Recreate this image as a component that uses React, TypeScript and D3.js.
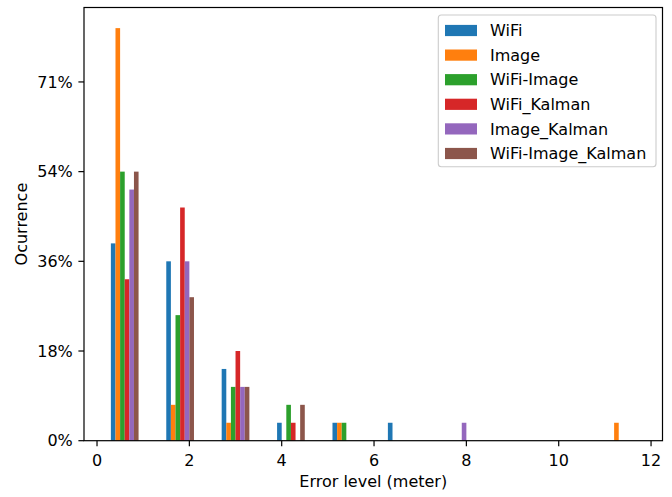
import React from "react";
import * as d3 from "d3";

// Histogram of localisation error (28 samples per method), 10 bins of 1.2 m on [0, 12]
const binEdges = [0, 1.2, 2.4, 3.6, 4.8, 6.0, 7.2, 8.4, 9.6, 10.8, 12.0];
const seriesNames = ["WiFi", "Image", "WiFi-Image", "WiFi_Kalman", "Image_Kalman", "WiFi-Image_Kalman"];
const wifiCounts = [11, 10, 4, 1, 1, 1, 0, 0, 0, 0];
const imageCounts = [23, 2, 1, 0, 1, 0, 0, 0, 0, 1];
const wifiImageCounts = [15, 7, 3, 2, 1, 0, 0, 0, 0, 0];
const wifiKalmanCounts = [9, 13, 5, 1, 0, 0, 0, 0, 0, 0];
const imageKalmanCounts = [14, 10, 3, 0, 0, 0, 1, 0, 0, 0];
const wifiImageKalmanCounts = [15, 8, 3, 2, 0, 0, 0, 0, 0, 0];
const totalSamples = 28;
const yTickCounts = [0, 5, 10, 15, 20];
const xTicks = [0, 2, 4, 6, 8, 10, 12];

const allCounts = [wifiCounts, imageCounts, wifiImageCounts, wifiKalmanCounts, imageKalmanCounts, wifiImageKalmanCounts];
const colors = ["#1f77b4", "#ff7f0e", "#2ca02c", "#d62728", "#9467bd", "#8c564b"];

const W = 672;
const H = 497;
const plot = { left: 84, right: 662.5, top: 7.5, bottom: 440.7 };
const FONT = "DejaVu Sans, sans-serif";
const FS = 16;

export default function App() {
  const x = d3.scaleLinear().domain([-0.282, 12.248]).range([plot.left, plot.right]);
  const maxCount = d3.max(allCounts.flat()) as number;
  const y = d3.scaleLinear().domain([0, maxCount * 1.05]).range([plot.bottom, plot.top]);

  const nSeries = allCounts.length;
  const rwidth = 0.5;

  const bars: React.ReactNode[] = [];
  allCounts.forEach((counts, si) => {
    counts.forEach((c, bi) => {
      if (c <= 0) return;
      const lo = binEdges[bi];
      const hi = binEdges[bi + 1];
      const tw = hi - lo;
      const bw = (rwidth * tw) / nSeries;
      const x0 = lo + (tw * (1 - rwidth)) / 2 + si * bw;
      bars.push(
        <rect
          key={`${si}-${bi}`}
          x={x(x0)}
          width={x(x0 + bw) - x(x0)}
          y={y(c)}
          height={y(0) - y(c)}
          fill={colors[si]}
        />
      );
    });
  });

  const tickLen = 5.6;
  const legend = { x: 438.3, y: 15, w: 217.7, h: 151.7 };
  const rowY = (i: number) => 30.5 + i * 24.6;

  return (
    <svg width={W} height={H} style={{ position: "absolute", left: 0, top: 0, background: "#fff" }}>
      <rect x={0} y={0} width={W} height={H} fill="#fff" />
      <g>{bars}</g>

      {/* spines */}
      <rect
        x={plot.left}
        y={plot.top}
        width={plot.right - plot.left}
        height={plot.bottom - plot.top}
        fill="none"
        stroke="#000"
        strokeWidth={1.2}
      />

      {/* x axis */}
      {xTicks.map((t) => (
        <g key={`xt${t}`}>
          <line x1={x(t)} x2={x(t)} y1={plot.bottom} y2={plot.bottom + tickLen} stroke="#000" strokeWidth={1.2} />
          <text x={x(t)} y={465.5} textAnchor="middle" fontFamily={FONT} fontSize={FS} fill="#000">
            {t}
          </text>
        </g>
      ))}
      <text x={(plot.left + plot.right) / 2} y={487} textAnchor="middle" fontFamily={FONT} fontSize={FS} fill="#000">
        Error level (meter)
      </text>

      {/* y axis */}
      {yTickCounts.map((t) => (
        <g key={`yt${t}`}>
          <line x1={plot.left - tickLen} x2={plot.left} y1={y(t)} y2={y(t)} stroke="#000" strokeWidth={1.2} />
          <text
            x={plot.left - tickLen - 5.6}
            y={y(t)}
            dy="0.36em"
            textAnchor="end"
            fontFamily={FONT}
            fontSize={FS}
            fill="#000"
          >
            {`${Math.round((t / totalSamples) * 100)}%`}
          </text>
        </g>
      ))}
      <text
        transform={`translate(26.5, ${(plot.top + plot.bottom) / 2}) rotate(-90)`}
        textAnchor="middle"
        fontFamily={FONT}
        fontSize={FS}
        fill="#000"
      >
        Ocurrence
      </text>

      {/* legend */}
      <rect
        x={legend.x}
        y={legend.y}
        width={legend.w}
        height={legend.h}
        rx={3}
        ry={3}
        fill="#fff"
        fillOpacity={0.8}
        stroke="#cccccc"
        strokeWidth={1.1}
      />
      {seriesNames.map((name, i) => (
        <g key={name}>
          <rect x={445} y={rowY(i) - 5.6} width={32} height={11.2} fill={colors[i]} />
          <text x={490} y={rowY(i)} dy="0.36em" fontFamily={FONT} fontSize={FS} fill="#000">
            {name}
          </text>
        </g>
      ))}
    </svg>
  );
}
